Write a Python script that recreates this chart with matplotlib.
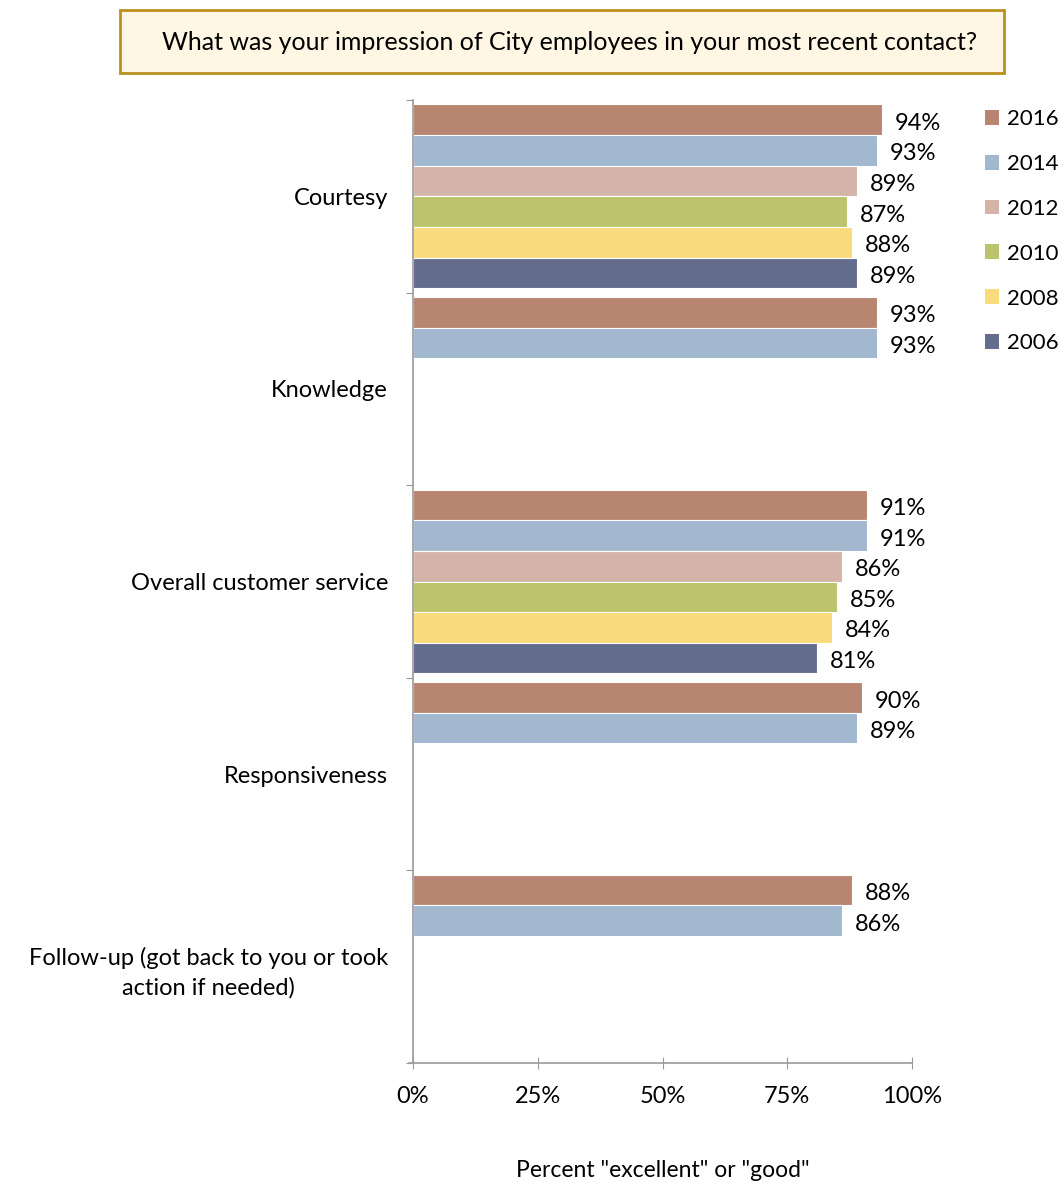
import numpy as np
import matplotlib.pyplot as plt
from matplotlib.patches import Rectangle, Patch

plt.rcParams['font.family'] = ['Lato', 'DejaVu Sans']

categories = ["Courtesy", "Knowledge", "Overall customer service",
              "Responsiveness", "Follow-up (got back to you or took\naction if needed)"]
years = ["2016", "2014", "2012", "2010", "2008", "2006"]
colors = ["#b88570", "#a1b8cf", "#d4b4a8", "#bbc36c", "#f9da7d", "#646c8e"]

# percent per year, one entry per category (None = not asked that year)
v2016 = [94, 93, 91, 90, 88]
v2014 = [93, 93, 91, 89, 86]
v2012 = [89, None, 86, None, None]
v2010 = [87, None, 85, None, None]
v2008 = [88, None, 84, None, None]
v2006 = [89, None, 81, None, None]
series = [v2016, v2014, v2012, v2010, v2008, v2006]

W, H = 1064, 1182
fig = plt.figure(figsize=(W / 100, H / 100), dpi=100)
ax = fig.add_axes([413 / W, 1 - 1063 / H, (912 - 413) / W, (1063 - 100) / H])

bar_h = 0.159
pad = (1 - 6 * bar_h) / 2
for j, (vals, col) in enumerate(zip(series, colors)):
    for i, v in enumerate(vals):
        if v is None:
            continue
        yc = i + pad + (j + 0.5) * bar_h
        ax.barh(yc, v / 100, height=bar_h, color=col, edgecolor="white", linewidth=0.8)
        ax.text(v / 100 + 0.026, yc + 0.018, f"{v}%", ha="left", va="center", fontsize=17)

ax.set_xlim(0, 1)
ax.set_ylim(5, 0)
ax.set_xticks([0, 0.25, 0.5, 0.75, 1.0])
ax.set_xticklabels(["0%", "25%", "50%", "75%", "100%"], fontsize=17)
ax.set_yticks(range(6))
ax.set_yticklabels([])
ax.set_yticks([i + 0.5 for i in range(5)], minor=True)
ax.set_yticklabels(categories, minor=True, fontsize=17, ha="right",
                   multialignment="center", linespacing=1.45)
ax.tick_params(axis="y", which="minor", length=0, pad=18)
ax.tick_params(axis="y", which="major", length=5, color="#999999", direction="out")
ax.tick_params(axis="x", length=9, color="#999999", direction="inout", pad=12)
for s in ["top", "right"]:
    ax.spines[s].set_visible(False)
for s in ["left", "bottom"]:
    ax.spines[s].set_color("#999999")
    ax.spines[s].set_linewidth(1.2)
ax.spines["bottom"].set_bounds(-0.008, 1)

ax.set_xlabel('Percent "excellent" or "good"', fontsize=16.5, labelpad=38)

handles = [Patch(facecolor=c, edgecolor="none", label=y) for y, c in zip(years, colors)]
fig.legend(handles=handles, loc="upper left", bbox_to_anchor=(985 / W, 1 - 109 / H),
           frameon=False, fontsize=16, handlelength=0.65, handleheight=0.65,
           handletextpad=0.35, labelspacing=1.12, borderpad=0, borderaxespad=0)

# title box
fig.patches.append(Rectangle((120 / W, 1 - 73 / H), (1004 - 120) / W, 63 / H,
                             transform=fig.transFigure, facecolor="#fff7e4",
                             edgecolor="#b8901c", linewidth=2))
fig.text(570 / W, 1 - 42 / H,
         "What was your impression of City employees in your most recent contact?",
         ha="center", va="center", fontsize=18)

fig.savefig("out.png", dpi=100)
